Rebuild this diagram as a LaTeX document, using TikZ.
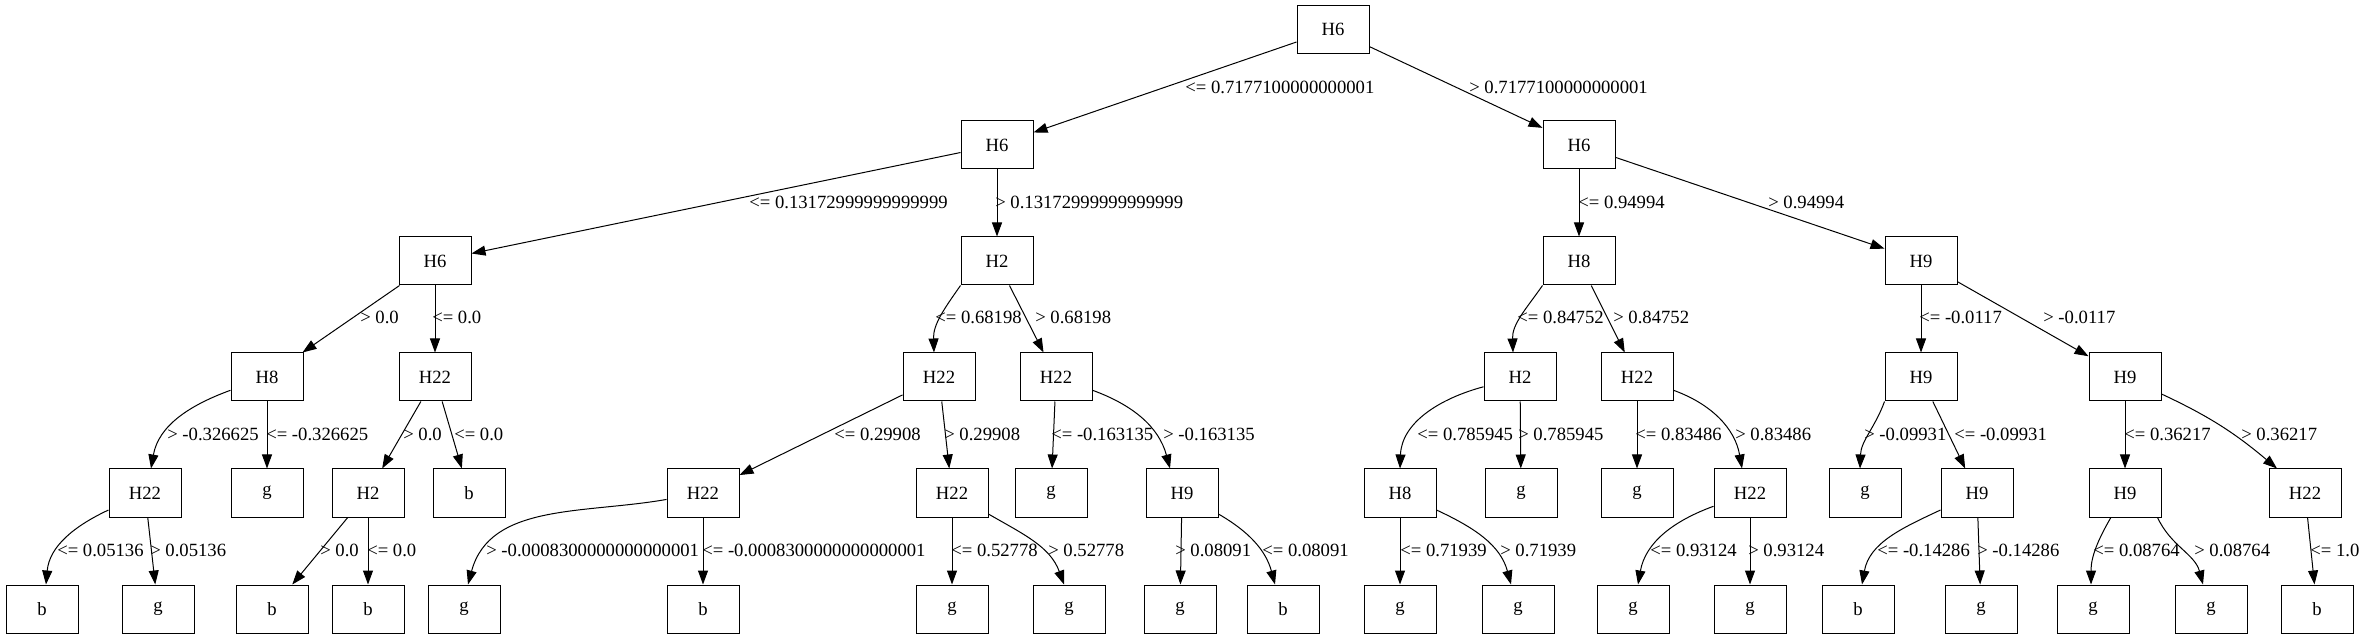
\documentclass[tikz,border=0pt]{standalone}
\usepackage{fontspec}
\setmainfont{Liberation Serif}
\usetikzlibrary{arrows.meta,calc}
\begin{document}
\begin{tikzpicture}[x=0.75pt,y=0.75pt,
  box/.style={draw, rectangle, minimum width=54pt, minimum height=36pt, inner sep=0pt, line width=0.75pt, font=\fontsize{14}{16}\selectfont},
  lab/.style={anchor=west, inner sep=0pt, font=\fontsize{14}{16}\selectfont},
  edge/.style={-{Triangle[length=10.5pt,width=7.5pt]}, line width=0.75pt}]
\useasboundingbox (0,0) rectangle (2368,639);
% level 0
\node[box] (r) at (1333,609.5) {H6};
% level 1
\node[box] (a) at (997,494) {H6};
\node[box] (b) at (1579,494) {H6};
% level 2
\node[box] (aa) at (435,378) {H6};
\node[box] (ab) at (997,378) {H2};
\node[box] (ba) at (1579,378) {H8};
\node[box] (bb) at (1921,378) {H9};
% level 3
\node[box] (aaa) at (267,262) {H8};
\node[box] (aab) at (435,262) {H22};
\node[box] (aba) at (939,262) {H22};
\node[box] (abb) at (1056,262) {H22};
\node[box] (baa) at (1520,262) {H2};
\node[box] (bab) at (1637,262) {H22};
\node[box] (bba) at (1921,262) {H9};
\node[box] (bbb) at (2125,262) {H9};
% level 4
\node[box] (aaaa) at (145,146) {H22};
\node[box] (aaab) at (267,146) {g};
\node[box] (aaba) at (368,146) {H2};
\node[box] (aabb) at (469,146) {b};
\node[box] (abaa) at (703,146) {H22};
\node[box] (abab) at (952,146) {H22};
\node[box] (abba) at (1051,146) {g};
\node[box] (abbb) at (1182,146) {H9};
\node[box] (baaa) at (1400,146) {H8};
\node[box] (baab) at (1521,146) {g};
\node[box] (baba) at (1637,146) {g};
\node[box] (babb) at (1750,146) {H22};
\node[box] (bbaa) at (1865,146) {g};
\node[box] (bbab) at (1977,146) {H9};
\node[box] (bbba) at (2125,146) {H9};
\node[box] (bbbb) at (2305,146) {H22};
% level 5
\node[box] (la) at (42,30) {b};
\node[box] (lb) at (158,30) {g};
\node[box] (lc) at (272,30) {b};
\node[box] (ld) at (368,30) {b};
\node[box] (le) at (464,30) {g};
\node[box] (lf) at (703,30) {b};
\node[box] (lg) at (952,30) {g};
\node[box] (lh) at (1069,30) {g};
\node[box] (li) at (1180,30) {g};
\node[box] (lj) at (1283,30) {b};
\node[box] (lk) at (1400,30) {g};
\node[box] (ll) at (1518,30) {g};
\node[box] (lm) at (1633,30) {g};
\node[box] (ln) at (1750,30) {g};
\node[box] (lo) at (1858,30) {b};
\node[box] (lp) at (1981,30) {g};
\node[box] (lq) at (2093,30) {g};
\node[box] (lr) at (2211,30) {g};
\node[box] (ls) at (2317,30) {b};

% edges level 0-1
\draw[edge] (r) -- (a);
\draw[edge] (r) -- (b);
% level 1-2
\draw[edge] (a) -- (aa);
\draw[edge] (a) -- (ab);
\draw[edge] (b) -- (ba);
\draw[edge] (b) -- (bb);
% level 2-3
\draw[edge] (aa) -- (aaa);
\draw[edge] (aa) -- (aab);
\draw[edge] (ab.south west) to[out=235,in=92] ($(aba.north)+(-5,0)$);
\draw[edge] (ab) -- (abb);
\draw[edge] (ba.south west) to[out=235,in=92] ($(baa.north)+(-7,0)$);
\draw[edge] (ba) -- (bab);
\draw[edge] (bb) -- (bba);
\draw[edge] (bb) -- (bbb);
% level 3-4
\draw[edge] (aaa) to[out=200,in=80] ($(aaaa.north)+(6,0)$);
\draw[edge] (aaa) -- (aaab);
\draw[edge] (aab) -- (aaba);
\draw[edge] (aab) -- (aabb);
\draw[edge] (aba) -- (abaa);
\draw[edge] (aba) -- (abab);
\draw[edge] (abb) -- (abba);
\draw[edge] (abb) to[out=340,in=105] ($(abbb.north)+(-12,0)$);
\draw[edge] (baa) to[out=195,in=88] (baaa.north);
\draw[edge] (baa) -- (baab);
\draw[edge] (bab) -- (baba);
\draw[edge] (bab) to[out=340,in=100] ($(babb.north)+(-8,0)$);
\draw[edge] (bba.south west) to[out=250,in=88] ($(bbaa.north)+(-5,0)$);
\draw[edge] (bba) -- (bbab);
\draw[edge] (bbb) -- (bbba);
\draw[edge] (bbb) to[out=335,in=140] ($(bbbb.north)+(-28,0)$);
% level 4-5
\draw[edge] (aaaa) to[out=205,in=85] ($(la.north)+(4,0)$);
\draw[edge] (aaaa) -- (lb);
\draw[edge] (aaba) -- (lc);
\draw[edge] (aaba) -- (ld);
\draw[edge] (abaa) to[out=190,in=75] ($(le.north)+(4,0)$);
\draw[edge] (abaa) -- (lf);
\draw[edge] (abab) -- (lg);
\draw[edge] (abab) to[out=330,in=110] ($(lh.north)+(-5,0)$);
\draw[edge] (abbb) -- (li);
\draw[edge] (abbb) to[out=330,in=105] ($(lj.north)+(-8,0)$);
\draw[edge] (baaa) -- (lk);
\draw[edge] (baaa) to[out=335,in=105] ($(ll.north)+(-7,0)$);
\draw[edge] (babb) to[out=200,in=80] ($(lm.north)+(5,0)$);
\draw[edge] (babb) -- (ln);
\draw[edge] (bbab) to[out=205,in=80] ($(lo.north)+(4,0)$);
\draw[edge] (bbab) -- (lp);
\draw[edge] (bbba) to[out=240,in=90] ($(lq.north)+(-2,0)$);
\draw[edge] ($(bbba.south east)+(-4,0)$) to[out=295,in=105] ($(lr.north)+(-8,0)$);
\draw[edge] (bbbb) -- (ls);

% labels level 0-1
\node[lab] (t1) at (1185,552) {<= 0.7177100000000001};
\node[lab] (t2) at (1469,552) {> 0.7177100000000001};
% level 1-2
\node[lab] (t3) at (749,437) {<= 0.13172999999999999};
\node[lab] (t4) at (995,437) {> 0.13172999999999999};
\node[lab] (t5) at (1578,437) {<= 0.94994};
\node[lab] (t6) at (1768,437) {> 0.94994};
% level 2-3
\node[lab] (t7) at (360,322) {> 0.0};
\node[lab] (t8) at (432,322) {<= 0.0};
\node[lab] (t9) at (935,322) {<= 0.68198};
\node[lab] (t10) at (1035,322) {> 0.68198};
\node[lab] (t11) at (1517,322) {<= 0.84752};
\node[lab] (t12) at (1613,322) {> 0.84752};
\node[lab] (t13) at (1919,322) {<= -0.0117};
\node[lab] (t14) at (2043,322) {> -0.0117};
% level 3-4
\node[lab] (t15) at (167,205) {> -0.326625};
\node[lab] (t16) at (266,205) {<= -0.326625};
\node[lab] (t17) at (403,205) {> 0.0};
\node[lab] (t18) at (454,205) {<= 0.0};
\node[lab] (t19) at (834,205) {<= 0.29908};
\node[lab] (t20) at (944,205) {> 0.29908};
\node[lab] (t21) at (1051,205) {<= -0.163135};
\node[lab] (t22) at (1163,205) {> -0.163135};
\node[lab] (t23) at (1417,205) {<= 0.785945};
\node[lab] (t24) at (1518,205) {> 0.785945};
\node[lab] (t25) at (1635,205) {<= 0.83486};
\node[lab] (t26) at (1735,205) {> 0.83486};
\node[lab] (t27) at (1864,205) {> -0.09931};
\node[lab] (t28) at (1954,205) {<= -0.09931};
\node[lab] (t29) at (2124,205) {<= 0.36217};
\node[lab] (t30) at (2241,205) {> 0.36217};
% level 4-5
\node[lab] (t31) at (57,89) {<= 0.05136};
\node[lab] (t32) at (150,89) {> 0.05136};
\node[lab] (t33) at (320,89) {> 0.0};
\node[lab] (t34) at (367,89) {<= 0.0};
\node[lab] (t35) at (486,89) {> -0.0008300000000000001};
\node[lab] (t36) at (702,89) {<= -0.0008300000000000001};
\node[lab] (t37) at (951,89) {<= 0.52778};
\node[lab] (t38) at (1048,89) {> 0.52778};
\node[lab] (t39) at (1175,89) {> 0.08091};
\node[lab] (t40) at (1262,89) {<= 0.08091};
\node[lab] (t41) at (1400,89) {<= 0.71939};
\node[lab] (t42) at (1500,89) {> 0.71939};
\node[lab] (t43) at (1650,89) {<= 0.93124};
\node[lab] (t44) at (1748,89) {> 0.93124};
\node[lab] (t45) at (1877,89) {<= -0.14286};
\node[lab] (t46) at (1977,89) {> -0.14286};
\node[lab] (t47) at (2093,89) {<= 0.08764};
\node[lab] (t48) at (2194,89) {> 0.08764};
\node[lab] (t49) at (2310,89) {<= 1.0};
\end{tikzpicture}
\end{document}
